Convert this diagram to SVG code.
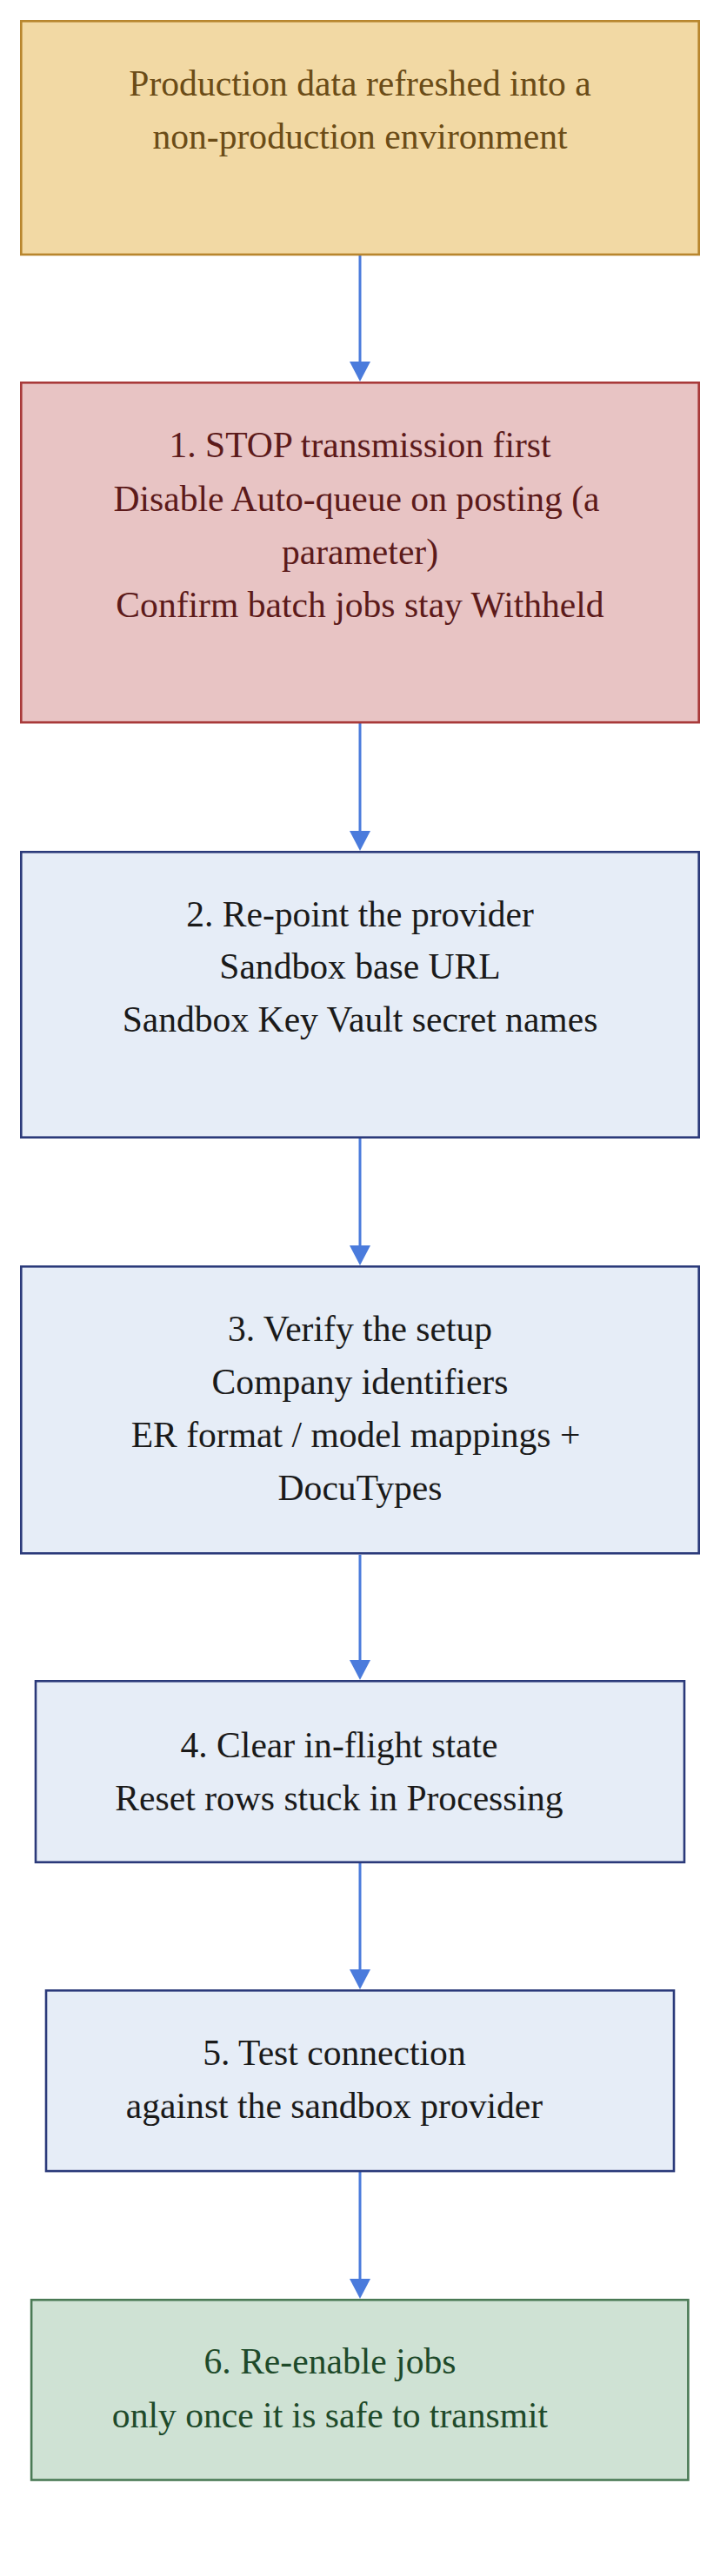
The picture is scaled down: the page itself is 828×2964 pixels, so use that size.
<svg xmlns="http://www.w3.org/2000/svg" width="828" height="2964" viewBox="0 0 828 2964">
  <style>
    text { font-family: "Liberation Serif", "Times New Roman", serif; font-size: 41.6px; text-anchor: middle; }
    .box { stroke-width: 2.6; }
    .start { fill: #f2d9a4; stroke: #b8862e; }
    .start-t { fill: #6b4c17; }
    .stop { fill: #e8c4c4; stroke: #a83a3a; }
    .stop-t { fill: #5c1a1a; }
    .step { fill: #e6edf7; stroke: #2b3a7a; }
    .step-t { fill: #1a1a1a; }
    .done { fill: #cfe2d4; stroke: #4a7a55; }
    .done-t { fill: #1e4a2a; }
    .edge { stroke: #4a7bdc; stroke-width: 3; fill: none; marker-end: url(#arrow); }
  </style>
  <defs>
    <marker id="arrow" markerUnits="userSpaceOnUse" viewBox="0 0 23 24" refX="0" refY="12" markerWidth="23" markerHeight="24" orient="auto">
      <path d="M0,0 L23,12 L0,24 z" fill="#4a7bdc"/>
    </marker>
  </defs>
  <rect width="828" height="2964" fill="#ffffff"/>

  <g id="connectors">
    <path class="edge" d="M414,294 L414,416"/>
    <path class="edge" d="M414,832 L414,956"/>
    <path class="edge" d="M414,1310 L414,1433"/>
    <path class="edge" d="M414,1789 L414,1910"/>
    <path class="edge" d="M414,2144 L414,2266"/>
    <path class="edge" d="M414,2499 L414,2622"/>
  </g>

  <g id="node-start">
    <rect class="box start" x="24.3" y="24.3" width="779.4" height="268.6"/>
    <text class="start-t" x="414" y="110">Production data refreshed into a</text>
    <text class="start-t" x="414" y="171">non-production environment</text>
  </g>

  <g id="node-1">
    <rect class="box stop" x="24.3" y="440.3" width="779.4" height="390.9"/>
    <text class="stop-t" x="414" y="526">1. STOP transmission first</text>
    <text class="stop-t" x="410" y="588">Disable Auto-queue on posting (a</text>
    <text class="stop-t" x="414" y="649">parameter)</text>
    <text class="stop-t" x="414" y="710">Confirm batch jobs stay Withheld</text>
  </g>

  <g id="node-2">
    <rect class="box step" x="24.3" y="980.3" width="779.4" height="328.4"/>
    <text class="step-t" x="414" y="1066">2. Re-point the provider</text>
    <text class="step-t" x="414" y="1126">Sandbox base URL</text>
    <text class="step-t" x="414" y="1187">Sandbox Key Vault secret names</text>
  </g>

  <g id="node-3">
    <rect class="box step" x="24.3" y="1457.3" width="779.4" height="330"/>
    <text class="step-t" x="414" y="1543">3. Verify the setup</text>
    <text class="step-t" x="414" y="1604">Company identifiers</text>
    <text class="step-t" x="409" y="1665">ER format / model mappings +</text>
    <text class="step-t" x="414" y="1726">DocuTypes</text>
  </g>

  <g id="node-4">
    <rect class="box step" x="41" y="1934.3" width="746" height="208.4"/>
    <text class="step-t" x="390" y="2022">4. Clear in-flight state</text>
    <text class="step-t" x="390" y="2083">Reset rows stuck in Processing</text>
  </g>

  <g id="node-5">
    <rect class="box step" x="53" y="2290.3" width="722" height="207.8"/>
    <text class="step-t" x="384.5" y="2376">5. Test connection</text>
    <text class="step-t" x="384.5" y="2437">against the sandbox provider</text>
  </g>

  <g id="node-6">
    <rect class="box done" x="36.1" y="2646.3" width="755.3" height="207.2"/>
    <text class="done-t" x="379.5" y="2731">6. Re-enable jobs</text>
    <text class="done-t" x="379.5" y="2793">only once it is safe to transmit</text>
  </g>
</svg>
